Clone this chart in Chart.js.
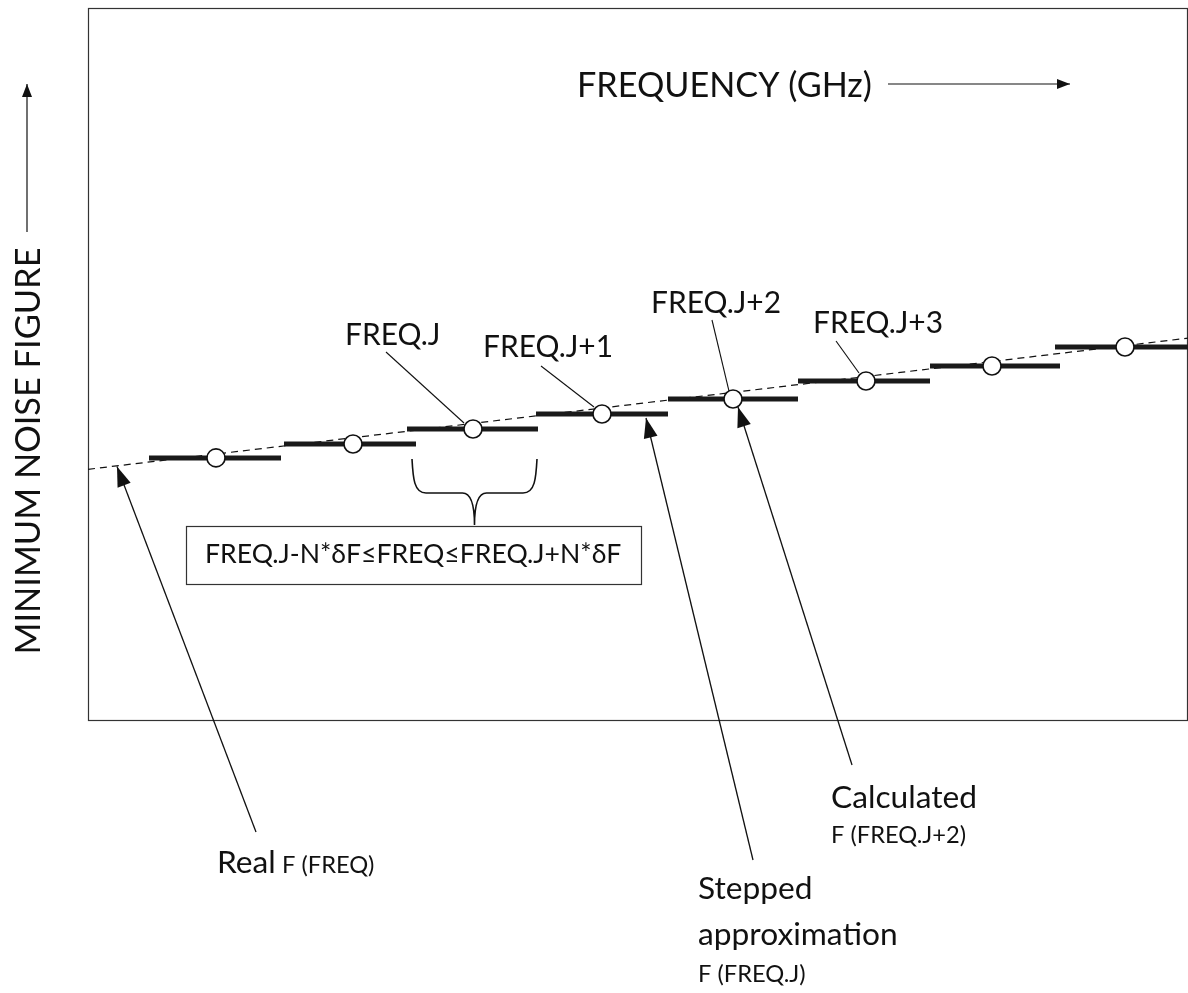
<!DOCTYPE html>
<html>
<head>
<meta charset="utf-8">
<title>Minimum noise figure vs frequency</title>
<script src="https://cdn.jsdelivr.net/npm/chart.js@4/dist/chart.umd.min.js"></script>
<style>
  body { margin: 0; background: #fff; }
  #wrap { width: 1188px; height: 993px; }
</style>
</head>
<body>
<div id="wrap"><canvas id="noiseChart" width="1188" height="993"></canvas></div>
<script>
// real curve F(FREQ), straight dashed line
const realX = [0, 11];
const realY = [3.53, 5.37];

// stepped approximation F(FREQ.J), one flat segment per step
const stepStart = [0.61, 1.96, 3.19, 4.48, 5.80, 7.10, 8.42, 9.67];
const stepEnd   = [1.93, 3.28, 4.50, 5.80, 7.10, 8.42, 9.72, 11.0];
const stepLevel = [3.69, 3.885, 4.095, 4.306, 4.516, 4.769, 4.979, 5.245];

// calculated points at FREQ.J (centre of each step)
const calcX = [1.28, 2.65, 3.85, 5.14, 6.45, 7.78, 9.04, 10.37];

const FONT = 'Lato, "Open Sans", sans-serif';

var realData = realX.map((x, i) => ({x: x, y: realY[i]}));
var stepData = [];
for (let i = 0; i < stepStart.length; i++) {
    stepData.push({x: stepStart[i], y: stepLevel[i]});
    stepData.push({x: stepEnd[i], y: stepLevel[i]});
    stepData.push({x: stepEnd[i], y: null});
}
var calcData = calcX.map((x, i) => ({x: x, y: stepLevel[i]}));

// font size that makes a text as wide as in the picture
function fitSize(ctx, str, width) {
    ctx.font = '100px ' + FONT;
    return 100 * width / ctx.measureText(str).width;
}
function text(ctx, str, x, y, size) {
    ctx.font = size.toFixed(1) + 'px ' + FONT;
    ctx.fillText(str, x, y);
}
function line(ctx, x1, y1, x2, y2) {
    ctx.beginPath();
    ctx.moveTo(x1, y1);
    ctx.lineTo(x2, y2);
    ctx.stroke();
}
function arrow(ctx, x1, y1, x2, y2, len, half) {
    line(ctx, x1, y1, x2, y2);
    const a = Math.atan2(y2 - y1, x2 - x1);
    ctx.beginPath();
    ctx.moveTo(x2, y2);
    ctx.lineTo(x2 - len * Math.cos(a) + half * Math.sin(a), y2 - len * Math.sin(a) - half * Math.cos(a));
    ctx.lineTo(x2 - len * Math.cos(a) - half * Math.sin(a), y2 - len * Math.sin(a) + half * Math.cos(a));
    ctx.closePath();
    ctx.fill();
}

const frame = {
    id: 'frame',
    beforeDatasetsDraw(chart) {
        const {ctx, chartArea: a} = chart;
        ctx.save();
        ctx.strokeStyle = '#333';
        ctx.lineWidth = 1.2;
        ctx.strokeRect(a.left + 0.5, a.top + 0.5, a.right - a.left - 1, a.bottom - a.top - 1);
        ctx.restore();
    }
};

const notes = {
    id: 'notes',
    afterDraw(chart) {
        const ctx = chart.ctx;
        const xs = chart.scales.x, ys = chart.scales.y;
        const px = i => xs.getPixelForValue(calcX[i]);
        const py = i => ys.getPixelForValue(stepLevel[i]);
        ctx.save();
        ctx.fillStyle = '#111';
        ctx.strokeStyle = '#111';
        ctx.textBaseline = 'alphabetic';
        ctx.textAlign = 'left';

        // axis titles with arrows
        text(ctx, 'FREQUENCY (GHz)', 577, 97, fitSize(ctx, 'FREQUENCY (GHz)', 295));
        ctx.lineWidth = 1.2;
        arrow(ctx, 888, 84, 1070, 84, 13, 5);

        ctx.save();
        ctx.translate(40, 451);
        ctx.rotate(-Math.PI / 2);
        ctx.textAlign = 'center';
        text(ctx, 'MINIMUM NOISE FIGURE', 0, 0, fitSize(ctx, 'MINIMUM NOISE FIGURE', 407));
        ctx.restore();
        arrow(ctx, 27, 232, 27, 84, 13, 5);

        // step labels with leader lines
        const lab = fitSize(ctx, 'FREQ.J+1', 130);
        text(ctx, 'FREQ.J', 345, 345, lab);
        text(ctx, 'FREQ.J+1', 483, 357, lab);
        text(ctx, 'FREQ.J+2', 651, 313, lab);
        text(ctx, 'FREQ.J+3', 813, 333, lab);
        ctx.lineWidth = 1.1;
        line(ctx, 386, 352, px(2) - 9, py(2) - 6);
        line(ctx, 541, 366, px(3) - 8, py(3) - 7);
        line(ctx, 712, 320, px(4) - 4, py(4) - 8);
        line(ctx, 836, 341, px(5) - 7, py(5) - 8);

        // brace over FREQ.J step
        ctx.lineWidth = 1.6;
        const bl = xs.getPixelForValue(stepStart[2]) + 5, br = xs.getPixelForValue(stepEnd[2]) - 1;
        const bm = (bl + br) / 2;
        ctx.beginPath();
        ctx.moveTo(bl, 459);
        ctx.bezierCurveTo(bl + 1, 478, bl + 2, 493, bl + 14, 493);
        ctx.lineTo(bm - 12, 493);
        ctx.bezierCurveTo(bm - 4, 493, bm, 505, bm, 525);
        ctx.bezierCurveTo(bm, 505, bm + 4, 493, bm + 12, 493);
        ctx.lineTo(br - 14, 493);
        ctx.bezierCurveTo(br - 2, 493, br - 1, 478, br, 459);
        ctx.stroke();

        // range box
        ctx.lineWidth = 1.2;
        ctx.strokeStyle = '#333';
        ctx.strokeRect(186.5, 526.5, 455, 58);
        const rng = 'FREQ.J-N*\u03B4F\u2264FREQ\u2264FREQ.J+N*\u03B4F';
        text(ctx, rng, 205, 563, fitSize(ctx, rng, 417));

        // pointers to the curves
        ctx.strokeStyle = '#111';
        ctx.lineWidth = 1.3;
        arrow(ctx, 256, 832, xs.getPixelForValue(0.29), ys.getPixelForValue(3.57), 20, 7);
        arrow(ctx, 753, 860, xs.getPixelForValue(5.58), ys.getPixelForValue(4.306) + 4, 20, 7);
        arrow(ctx, 852, 765, px(4) + 5, py(4) + 8, 20, 7);

        // bottom captions
        const big = fitSize(ctx, 'Calculated', 146);
        const small = fitSize(ctx, 'F (FREQ.J+2)', 135);
        text(ctx, 'Real', 217, 873, big);
        text(ctx, 'F (FREQ)', 282, 873, small);
        text(ctx, 'Calculated', 831, 808, big);
        text(ctx, 'F (FREQ.J+2)', 831, 843, small);
        text(ctx, 'Stepped', 698, 899, big);
        text(ctx, 'approximation', 698, 945, big);
        text(ctx, 'F (FREQ.J)', 698, 982, small);
        ctx.restore();
    }
};

new Chart(document.getElementById('noiseChart'), {
    type: 'line',
    data: {
        datasets: [
            {
                label: 'Real F (FREQ)',
                data: realData,
                borderColor: '#111',
                borderWidth: 1.2,
                borderDash: [7, 5],
                pointRadius: 0,
                order: 3
            },
            {
                label: 'Stepped approximation',
                data: stepData,
                borderColor: '#1a1a1a',
                borderWidth: 5,
                spanGaps: false,
                pointRadius: 0,
                order: 2
            },
            {
                label: 'Calculated',
                data: calcData,
                showLine: false,
                pointRadius: 9,
                pointBackgroundColor: '#fff',
                pointBorderColor: '#111',
                pointBorderWidth: 1.6,
                order: 1
            }
        ]
    },
    options: {
        responsive: false,
        animation: false,
        devicePixelRatio: 1,
        layout: {autoPadding: false, padding: {left: 88, top: 8, right: 0, bottom: 272}},
        plugins: {legend: {display: false}, tooltip: {enabled: false}},
        scales: {
            x: {type: 'linear', min: 0, max: 11, display: false},
            y: {min: 0, max: 10, display: false}
        }
    },
    plugins: [frame, notes]
});
</script>
</body>
</html>
